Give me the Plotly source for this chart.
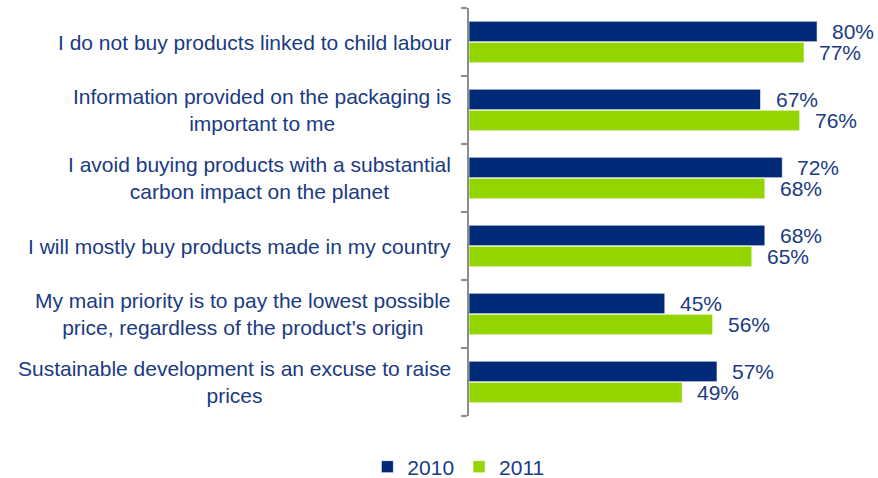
import plotly.graph_objects as go

# Survey statements (line breaks where the labels wrap)
statements = [
    "I do not buy products linked to child labour",
    "Information provided on the packaging is<br>important to me",
    "I avoid buying products with a substantial<br>carbon impact on the planet",
    "I will mostly buy products made in my country",
    "My main priority is to pay the lowest possible<br>price, regardless of the product's origin",
    "Sustainable development is an excuse to raise<br>prices",
]
years = ["2010", "2011"]
share_2010 = [80, 67, 72, 68, 45, 57]
share_2011 = [77, 76, 68, 65, 56, 49]

NAVY = "#002a78"
GREEN = "#94d500"
TEXT = "#1a3a82"
FONT = "Liberation Sans, Arial, sans-serif"

idx = list(range(len(statements)))

fig = go.Figure()
for name, vals, col in [(years[0], share_2010, NAVY), (years[1], share_2011, GREEN)]:
    fig.add_trace(go.Bar(
        y=idx, x=vals, name=name, orientation="h",
        marker=dict(color=col, line=dict(color="rgba(255,255,255,0.6)", width=1)),
        hoverinfo="x+name",
    ))

# value labels beside each bar
n = len(statements)
for k, vals in enumerate([share_2010, share_2011]):
    off = -0.155 if k == 0 else 0.155
    for i, v in enumerate(vals):
        fig.add_annotation(
            x=v, y=i + off, xref="x", yref="y", text=f"{v}%",
            showarrow=False, xanchor="left", yanchor="middle", xshift=13,
            font=dict(family=FONT, size=21, color=TEXT),
        )

# category labels, centred lines, right edge next to the axis
for i, s in enumerate(statements):
    fig.add_annotation(
        x=0, y=i, xref="paper", yref="y", text=s, showarrow=False,
        xanchor="right", yanchor="middle", align="center", xshift=-16,
        font=dict(family=FONT, size=21, color=TEXT),
    )

fig.update_layout(
    width=878, height=478,
    margin=dict(l=469, r=0, t=8, b=62, autoexpand=False),
    paper_bgcolor="white", plot_bgcolor="white",
    barmode="group", bargap=0.38, bargroupgap=0.03,
    font=dict(family=FONT, color=TEXT),
    showlegend=True,
    legend=dict(
        orientation="h", x=-0.026, xanchor="center", y=-0.125, yanchor="middle",
        font=dict(family=FONT, size=21, color=TEXT),
        itemwidth=30, traceorder="normal",
    ),
    xaxis=dict(range=[0, 94], visible=False, fixedrange=True),
    yaxis=dict(
        range=[n - 0.5, -0.5], showticklabels=False, showgrid=False, zeroline=False,
        showline=True, linecolor="#8c8c8c", linewidth=1.5,
        ticks="outside", ticklen=6, tickcolor="#8c8c8c", tickwidth=1.5,
        tickvals=[i - 0.5 for i in range(n + 1)],
    ),
)

fig.write_html("out.html")
